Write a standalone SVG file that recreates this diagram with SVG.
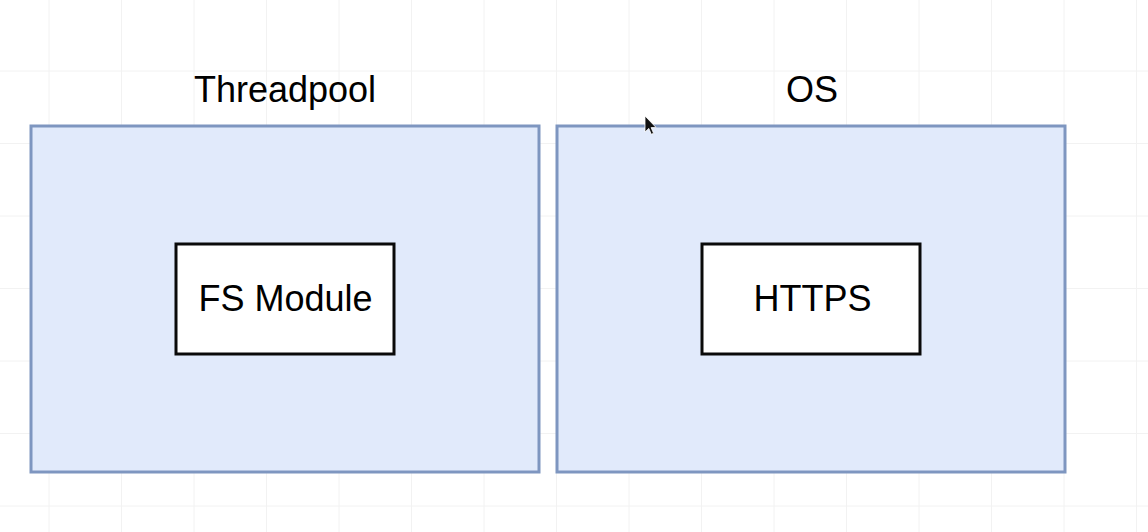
<svg xmlns="http://www.w3.org/2000/svg" width="1148" height="532" viewBox="0 0 1148 532">
  <defs>
    <style>
      .grid line { stroke: #f2f2f2; stroke-width: 1; }
      .outer { fill: #e1eafb; stroke: #7e96c0; stroke-width: 3; }
      .inner { fill: #ffffff; stroke: #0a0a0a; stroke-width: 3; }
      .label { font-family: "Liberation Sans", Arial, sans-serif; font-size: 36px; fill: #000000; text-anchor: middle; }
    </style>
  </defs>
  <rect x="0" y="0" width="1148" height="532" fill="#ffffff"/>
  <g class="grid">
    <line x1="49" y1="0" x2="49" y2="532"/>
    <line x1="121.5" y1="0" x2="121.5" y2="532"/>
    <line x1="194" y1="0" x2="194" y2="532"/>
    <line x1="266.5" y1="0" x2="266.5" y2="532"/>
    <line x1="339" y1="0" x2="339" y2="532"/>
    <line x1="411.5" y1="0" x2="411.5" y2="532"/>
    <line x1="484" y1="0" x2="484" y2="532"/>
    <line x1="556.5" y1="0" x2="556.5" y2="532"/>
    <line x1="629" y1="0" x2="629" y2="532"/>
    <line x1="701.5" y1="0" x2="701.5" y2="532"/>
    <line x1="774" y1="0" x2="774" y2="532"/>
    <line x1="846.5" y1="0" x2="846.5" y2="532"/>
    <line x1="919" y1="0" x2="919" y2="532"/>
    <line x1="991.5" y1="0" x2="991.5" y2="532"/>
    <line x1="1064" y1="0" x2="1064" y2="532"/>
    <line x1="1136.5" y1="0" x2="1136.5" y2="532"/>
    <line x1="0" y1="71" x2="1148" y2="71"/>
    <line x1="0" y1="143.5" x2="1148" y2="143.5"/>
    <line x1="0" y1="216" x2="1148" y2="216"/>
    <line x1="0" y1="288.5" x2="1148" y2="288.5"/>
    <line x1="0" y1="361" x2="1148" y2="361"/>
    <line x1="0" y1="433.5" x2="1148" y2="433.5"/>
    <line x1="0" y1="506" x2="1148" y2="506"/>
  </g>
  <g id="threadpool">
    <text class="label" x="285" y="102">Threadpool</text>
    <rect class="outer" x="31" y="126" width="508" height="346"/>
  </g>
  <g id="os">
    <text class="label" x="812" y="102">OS</text>
    <rect class="outer" x="557" y="126" width="508" height="346"/>
  </g>
  <g id="fs-module">
    <rect class="inner" x="176" y="244" width="218" height="110"/>
    <text class="label" x="285.5" y="311">FS Module</text>
  </g>
  <g id="https">
    <rect class="inner" x="702" y="244" width="218" height="110"/>
    <text class="label" x="812.5" y="311">HTTPS</text>
  </g>
  <g id="connectors"></g>
  <path d="M645,116 L645,132 L648.8,128.4 L651.3,134.3 L653.6,133.3 L651.1,127.6 L656,127.4 Z" fill="#111111" stroke="#ffffff" stroke-width="0.8"/>
</svg>
